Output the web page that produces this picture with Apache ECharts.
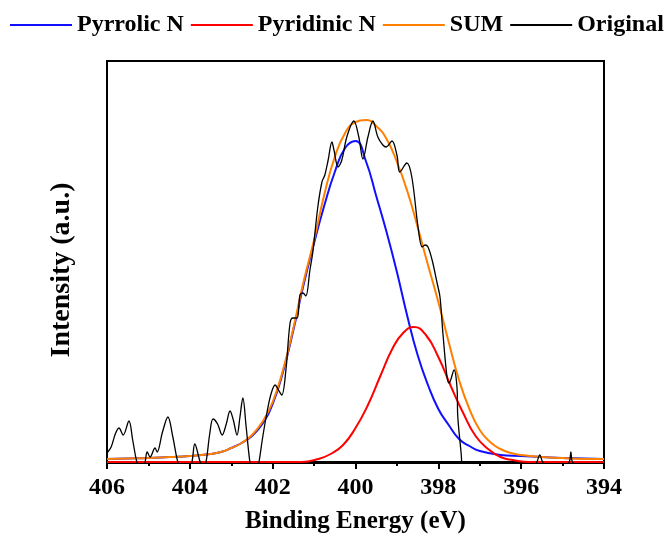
<!DOCTYPE html>
<html><head><meta charset="utf-8">
<script src="https://cdn.jsdelivr.net/npm/echarts@6/dist/echarts.min.js"></script>
<style>html,body{margin:0;padding:0;background:#fff}#c{width:668px;height:536px}</style>
</head><body><div id="c"></div>
<script>
// Binding energy (eV) and intensity (a.u.)
const xTicks = [406, 404, 402, 400, 398, 396, 394];

const pyrrolicE = [406, 405.5, 405, 404.5, 404, 403.5, 403.25, 403, 402.75, 402.5, 402.25, 402, 401.75, 401.5, 401.25, 401, 400.75, 400.5, 400.25, 400, 399.75, 399.5, 399.25, 399, 398.75, 398.5, 398.25, 398, 397.75, 397.5, 397.25, 397, 396.5, 396, 395.5, 395, 394.5, 394];
const pyrrolicI = [3, 3.5, 4, 5, 6, 8, 10, 14, 19, 26, 38, 58, 90, 132, 178, 219, 257, 290, 314, 321, 301, 266, 230, 190, 146, 107, 77, 53, 37, 23, 16, 11, 7, 6, 5, 4, 3.5, 3];

const pyridinicE = [406, 401.3, 400.9, 400.6, 400.3, 400.0, 399.7, 399.4, 399.1, 398.85, 398.59, 398.3, 398.0, 397.7, 397.4, 397.1, 396.8, 396.5, 396.2, 395.8, 394];
const pyridinicI = [0, 0, 3, 8, 17, 34, 57, 86, 114, 129, 135, 127, 105, 76, 49, 26, 13, 5, 2, 0, 0];

const sumE = [406, 405.5, 405, 404.5, 404, 403.5, 403.25, 403, 402.75, 402.5, 402.25, 402, 401.75, 401.5, 401.25, 401, 400.75, 400.5, 400.25, 400, 399.75, 399.5, 399.25, 399, 398.75, 398.5, 398.25, 398, 397.75, 397.5, 397.25, 397, 396.75, 396.5, 396.25, 396, 395.5, 395, 394.5, 394];
const sumI = [3, 3.5, 4, 5, 6, 8, 10, 14, 19, 27, 40, 60, 92, 134, 181, 222, 268, 305, 329, 340, 342, 336, 323, 300, 271, 235, 197, 160, 120, 82, 53, 32, 20, 13, 9, 7, 5, 4, 3, 3];

const originalE = [406.00, 405.90, 405.80, 405.71, 405.61, 405.47, 405.38, 405.28, 405.18, 405.08, 405.03, 404.96, 404.84, 404.79, 404.66, 404.53, 404.41, 404.29, 404.12, 403.95, 403.88, 403.75, 403.68, 403.61, 403.52, 403.44, 403.33, 403.22, 403.12, 403.03, 402.95, 402.86, 402.79, 402.72, 402.64, 402.55, 402.44, 402.33, 402.24, 402.14, 402.04, 401.94, 401.86, 401.78, 401.68, 401.58, 401.51, 401.41, 401.34, 401.27, 401.20, 401.10, 401.03, 400.91, 400.81, 400.74, 400.66, 400.57, 400.52, 400.42, 400.33, 400.21, 400.04, 399.92, 399.82, 399.70, 399.58, 399.46, 399.34, 399.26, 399.12, 399.00, 398.93, 398.76, 398.64, 398.49, 398.39, 398.32, 398.25, 398.15, 398.03, 397.96, 397.89, 397.79, 397.74, 397.62, 397.55, 397.53, 397.45, 397.40, 397.20, 396.80, 396.20, 395.70, 395.62, 395.55, 395.48, 395.30, 395.00, 394.84, 394.80, 394.76, 394.50, 394.00];
const originalI = [9, 15, 28, 34, 27, 41, 22, 0, -12, 0, 10, 5, 14, 10, 30, 45, 25, 0, -20, 0, 18, 0, -5, 0, 28, 43, 38, 27, 38, 51, 42, 27, 45, 64, 35, 0, -25, 0, 25, 49, 68, 77, 72, 67, 92, 139, 144, 144, 167, 169, 166, 192, 210, 255, 280, 287, 302, 320, 312, 295, 302, 325, 341, 325, 303, 325, 341, 325, 317, 315, 321, 307, 290, 299, 285, 235, 215, 217, 215, 202, 179, 165, 129, 85, 79, 92, 75, 45, 9, -15, -40, -35, -20, -5, 0, 7, 0, -8, -6, 0, 10, 0, -8, -8];

const zip = (a, b) => a.map((v, i) => [v, b[i]]);
const FONT = 'Liberation Serif';

const chart = echarts.init(document.getElementById('c'), null, {renderer: 'canvas'});
const mk = (name, e, y, color, width, smooth) => ({
  name, type: 'line', data: zip(e, y), showSymbol: false, smooth, clip: true,
  lineStyle: {color, width}, itemStyle: {color}, animation: false
});
chart.setOption({
  animation: false,
  backgroundColor: '#fff',
  legend: {
    top: 13, left: 10, padding: 0, icon: 'rect', itemWidth: 62, itemHeight: 2, itemGap: 7,
    textStyle: {fontFamily: FONT, fontWeight: 'bold', fontSize: 24, color: '#000'},
    data: ['Pyrrolic N', 'Pyridinic N', 'SUM', 'Original']
  },
  grid: {left: 107, right: 64, top: 61, bottom: 73, containLabel: false, outerBoundsMode: 'none',
    show: true, borderColor: '#000', borderWidth: 2, backgroundColor: 'transparent'},
  xAxis: {
    type: 'value', min: 394, max: 406, interval: 2, inverse: true,
    axisLine: {show: true, lineStyle: {color: '#000', width: 2}},
    axisTick: {show: true, length: 7, lineStyle: {color: '#000', width: 2}},
    minorTick: {show: true, splitNumber: 2, length: 4, lineStyle: {color: '#000', width: 2}},
    axisLabel: {fontFamily: FONT, fontWeight: 'bold', fontSize: 24, color: '#000', margin: 13,
      formatter: v => xTicks.includes(v) ? String(v) : ''},
    splitLine: {show: false},
    name: 'Binding Energy (eV)', nameLocation: 'middle', nameGap: 46,
    nameTextStyle: {fontFamily: FONT, fontWeight: 'bold', fontSize: 25, color: '#000'}
  },
  yAxis: {
    type: 'value', min: -1, max: 401,
    axisLine: {show: true, lineStyle: {color: '#000', width: 2}},
    axisTick: {show: false}, axisLabel: {show: false}, splitLine: {show: false}
  },
  graphic: [{
    type: 'text', x: 62, y: 270, rotation: Math.PI / 2,
    style: {text: 'Intensity (a.u.)', fontFamily: FONT, fontWeight: 'bold', fontSize: 28, fill: '#000', align: 'center', verticalAlign: 'middle'}
  }],
  series: [
    mk('Pyrrolic N', pyrrolicE, pyrrolicI, '#1010ff', 2, true),
    mk('Pyridinic N', pyridinicE, pyridinicI, '#ff0000', 2, true),
    mk('SUM', sumE, sumI, '#ff8000', 2, true),
    mk('Original', originalE, originalI, '#000000', 1.3, 0.35)
  ]
});
</script></body></html>
